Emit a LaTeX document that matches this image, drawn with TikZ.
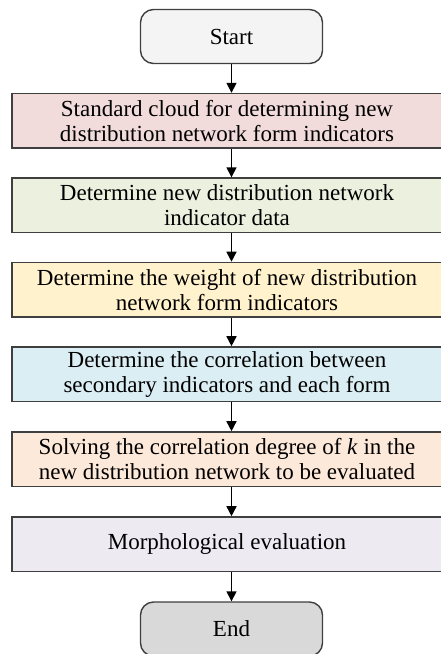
\documentclass[tikz,border=0pt]{standalone}
\usepackage{fontspec}
\setmainfont{Liberation Serif}
\usetikzlibrary{arrows.meta}
\definecolor{startfill}{HTML}{F4F4F4}
\definecolor{endfill}{HTML}{D9D9D9}
\definecolor{cpink}{HTML}{F2DCDB}
\definecolor{cgreen}{HTML}{EBF1DE}
\definecolor{cyellow}{HTML}{FFF2CC}
\definecolor{cblue}{HTML}{DAEEF3}
\definecolor{cpeach}{HTML}{FDE9D9}
\definecolor{clav}{HTML}{EDEAF2}
\definecolor{cline}{HTML}{3F3F3F}
\tikzset{
  term/.style={draw=cline, line width=0.7pt, rounded corners=6.5pt,
    minimum width=91pt, minimum height=27pt, inner sep=0pt,
    font=\fontsize{11.5}{12.5}\selectfont},
  procbox/.style={draw=cline, line width=0.7pt,
    minimum width=215pt, minimum height=27.3pt, inner sep=0pt,
    align=center, font=\fontsize{11.5}{12.5}\selectfont},
  flow/.style={line width=0.75pt, black, -{Triangle[width=5pt,length=5pt]}}
}
\begin{document}
\begin{tikzpicture}[x=0.5pt,y=-0.5pt]
\useasboundingbox (0,0) rectangle (440,654);
\node[term, fill=startfill] (start) at (231.5,36.5) {Start};
\node[procbox, fill=cpink] (b1) at (227,120.8) {Standard cloud for determining new\\distribution network form indicators};
\node[procbox, fill=cgreen] (b2) at (227,205.3) {Determine new distribution network\\indicator data};
\node[procbox, fill=cyellow] (b3) at (227,289.7) {Determine the weight of new distribution\\network form indicators};
\node[procbox, fill=cblue] (b4) at (227,374.2) {Determine the correlation between\\secondary indicators and each form};
\node[procbox, fill=cpeach] (b5) at (227,459.2) {Solving the correlation degree of \textit{k} in the\\new distribution network to be evaluated};
\node[procbox, fill=clav] (b6) at (227,544.2) {Morphological evaluation};
\node[term, fill=endfill] (end) at (231.5,629) {End};
\draw[flow] (start.south) -- (start.south |- b1.north);
\draw[flow] (start.south |- b1.south) -- (start.south |- b2.north);
\draw[flow] (start.south |- b2.south) -- (start.south |- b3.north);
\draw[flow] (start.south |- b3.south) -- (start.south |- b4.north);
\draw[flow] (start.south |- b4.south) -- (start.south |- b5.north);
\draw[flow] (start.south |- b5.south) -- (start.south |- b6.north);
\draw[flow] (start.south |- b6.south) -- (end.north);
\end{tikzpicture}
\end{document}
